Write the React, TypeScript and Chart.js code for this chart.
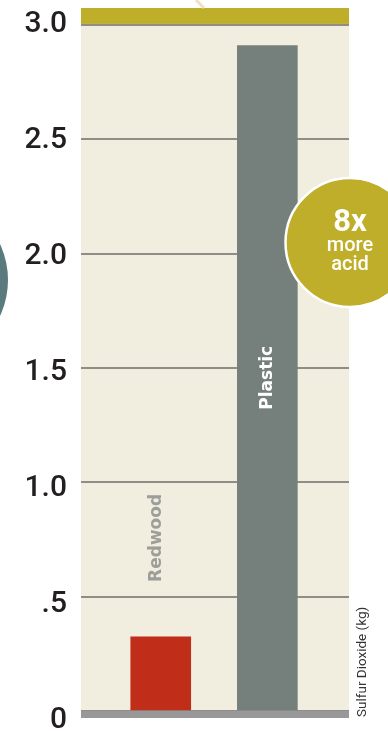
import React, { useEffect, useRef } from "react";
import { Chart, registerables } from "chart.js";

Chart.register(...registerables);

const categories = ["Redwood", "Plastic"];
const positions = [1, 2];
const values = [0.324, 2.91];
const barColors = ["#c02d19", "#757f7b"];
const labelColors = ["#9d9d9a", "#ffffff"];
const tickValues = [0, 0.5, 1, 1.5, 2, 2.5, 3];
const tickLabels = ["0", ".5", "1.0", "1.5", "2.0", "2.5", "3.0"];
const axisTitle = "Sulfur Dioxide (kg)";
const badgeLines = ["8x", "more", "acid"];

const decorPlugin = {
  id: "decor",
  beforeDraw(chart: any) {
    const { ctx, chartArea: a } = chart;
    ctx.save();
    ctx.fillStyle = "#f1eedf";
    ctx.fillRect(a.left, a.top, a.right - a.left, a.bottom - a.top);
    ctx.restore();
  },
  beforeDatasetsDraw(chart: any) {
    const { ctx, chartArea: a, scales } = chart;
    const y3 = scales.y.getPixelForValue(3);
    ctx.save();
    ctx.fillStyle = "#bfae2a";
    ctx.fillRect(a.left, a.top, a.right - a.left, y3 - 1 - a.top);
    ctx.restore();
  },
  afterDatasetsDraw(chart: any) {
    const { ctx, chartArea: a, scales } = chart;
    const y0 = scales.y.getPixelForValue(0);
    ctx.save();
    ctx.fillStyle = "#98989b";
    ctx.fillRect(a.left, y0, a.right - a.left, 7);
    const meta = chart.getDatasetMeta(0);
    meta.data.forEach((bar: any, i: number) => {
      ctx.save();
      ctx.font = "bold 17px 'DejaVu Sans'";
      ctx.fillStyle = labelColors[i];
      ctx.textBaseline = "middle";
      let cx: number, cy: number;
      if (i === 0) {
        ctx.textAlign = "left";
        cx = bar.x - 4;
        cy = bar.y - 55;
      } else {
        ctx.textAlign = "center";
        cx = bar.x;
        cy = (bar.y + bar.base) / 2;
      }
      ctx.translate(cx, cy);
      ctx.rotate(-Math.PI / 2);
      ctx.fillText(categories[i], 0, 0);
      ctx.restore();
    });
    ctx.restore();
  },
  afterDraw(chart: any) {
    const { ctx, chartArea: a, scales } = chart;
    ctx.save();
    // faint arrow mark at top
    ctx.strokeStyle = "#f0dfc2";
    ctx.lineWidth = 3;
    ctx.beginPath();
    ctx.moveTo(196, 0);
    ctx.lineTo(204, 8);
    ctx.stroke();
    // teal circle on left
    ctx.fillStyle = "#5b7a7e";
    ctx.beginPath();
    ctx.arc(-77, 280, 85, 0, Math.PI * 2);
    ctx.fill();
    // gold badge
    const cx = a.right + 1;
    const cy = scales.y.getPixelForValue(2.049);
    ctx.beginPath();
    ctx.arc(cx, cy, 64.5, 0, Math.PI * 2);
    ctx.fillStyle = "#bfae2a";
    ctx.fill();
    ctx.lineWidth = 2.5;
    ctx.strokeStyle = "#ffffff";
    ctx.stroke();
    ctx.fillStyle = "#ffffff";
    ctx.textAlign = "center";
    ctx.textBaseline = "alphabetic";
    ctx.font = "bold 31px Roboto";
    ctx.fillText(badgeLines[0], cx, cy - 11.5);
    ctx.font = "500 20px Roboto";
    ctx.fillText(badgeLines[1], cx, cy + 8.5);
    ctx.fillText(badgeLines[2], cx, cy + 27.5);
    // right axis title
    ctx.save();
    ctx.translate(363, a.bottom + 6);
    ctx.rotate(-Math.PI / 2);
    ctx.font = "13.5px Roboto";
    ctx.fillStyle = "#333333";
    ctx.textAlign = "left";
    ctx.textBaseline = "middle";
    ctx.fillText(axisTitle, 0, 0);
    ctx.restore();
    ctx.restore();
  },
};

export default function App() {
  const ref = useRef<HTMLCanvasElement>(null);
  useEffect(() => {
    if (!ref.current) return;
    const setTicks = (scale: any) => {
      scale.ticks = tickValues.map((v) => ({ value: v }));
    };
    const chart = new Chart(ref.current, {
      type: "bar",
      data: {
        datasets: [
          {
            data: values.map((v, i) => ({ x: positions[i], y: v })),
            backgroundColor: barColors,
            barThickness: 60,
            borderWidth: 0,
          },
        ],
      },
      options: {
        animation: false,
        responsive: true,
        maintainAspectRatio: false,
        layout: { padding: { top: 8, bottom: 20, left: 0, right: 39 } },
        plugins: { legend: { display: false }, tooltip: { enabled: false } },
        scales: {
          x: { type: "linear", min: 0.252, max: 2.766, display: false, offset: false },
          y: {
            position: "left",
            min: 0,
            max: 3.074,
            afterBuildTicks: setTicks,
            afterFit: (s: any) => {
              s.width = 0;
              s.paddingTop = 0;
              s.paddingBottom = 0;
            },
            ticks: { display: false },
            border: { display: false },
            grid: { color: "#8f8d85", lineWidth: 2, drawTicks: false },
          },
          y2: {
            position: "left",
            min: 0.043,
            max: 3.0689,
            afterBuildTicks: setTicks,
            afterFit: (s: any) => {
              s.width = 81;
              s.paddingTop = 0;
              s.paddingBottom = 0;
            },
            ticks: {
              autoSkip: false,
              padding: 14,
              color: "#231f20",
              font: { family: "Roboto", size: 30, weight: "500" },
              callback: (v: any) => tickLabels[tickValues.indexOf(Number(v))],
            },
            border: { display: false },
            grid: { display: false, drawTicks: false },
          },
        },
      },
      plugins: [decorPlugin],
    });
    return () => chart.destroy();
  }, []);
  return (
    <div style={{ position: "fixed", left: 0, top: 0, width: 388, height: 731, background: "#ffffff" }}>
      <canvas ref={ref} />
    </div>
  );
}
